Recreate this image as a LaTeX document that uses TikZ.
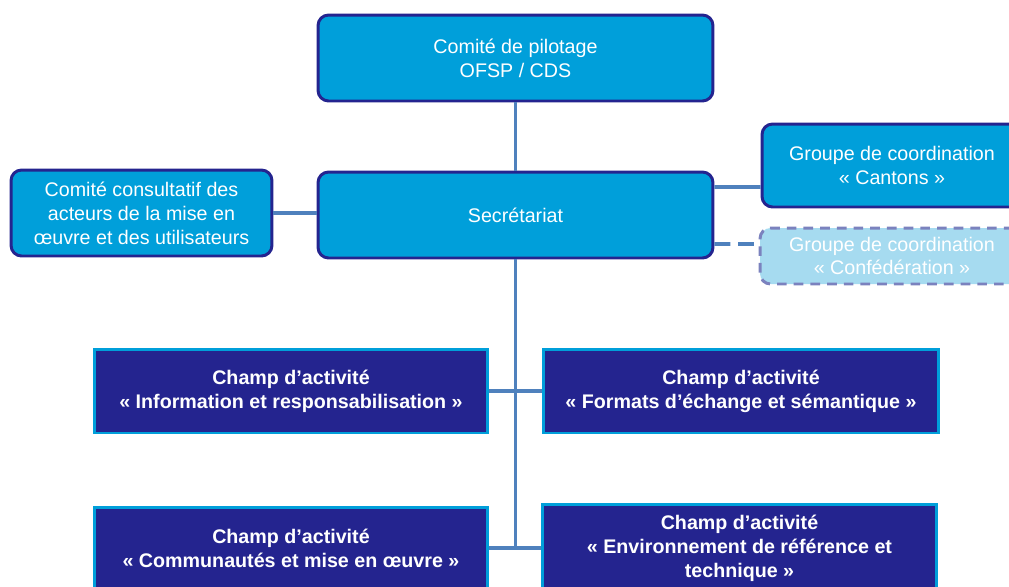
\documentclass[tikz,border=0pt]{standalone}
\usepackage{fontspec}
\setmainfont{Liberation Sans}
\usetikzlibrary{positioning}
\definecolor{ciel}{RGB}{0,159,218}
\definecolor{nuit}{RGB}{36,36,143}
\definecolor{trait}{RGB}{79,129,189}
\definecolor{pale}{RGB}{166,219,240}
\definecolor{grisbleu}{RGB}{123,130,190}
\tikzset{
    mynode/.style = {rectangle, rounded corners=6pt, line width=1.7pt, draw=nuit, fill=ciel, align=center, inner sep=0pt, text=white, font=\fontsize{11.2pt}{13.6pt}\selectfont},
    mynoded/.style = {rectangle, rounded corners=6pt, line width=1.7pt, draw=grisbleu, dash pattern=on 5.5pt off 4pt, fill=pale, align=center, inner sep=0pt, text=white, font=\fontsize{11.2pt}{13.6pt}\selectfont},
    mynodef/.style = {rectangle, line width=1.7pt, draw=ciel, fill=nuit, align=center, inner sep=0pt, text=white, font=\fontsize{11.2pt}{13.6pt}\selectfont\bfseries},
    edgen/.style = {-, line width=2.2pt, trait},
    edged/.style = {-, line width=2.2pt, trait, dash pattern=on 9pt off 4.5pt}
}

\begin{document}
\begin{tikzpicture}[x=0.02cm, y=-0.02cm]
%
\path[use as bounding box] (0,0) rectangle (1009,586);
\clip (0,0) rectangle (1009,586);
%
\node[mynode, minimum width=7.9cm, minimum height=1.72cm] at (515.5,58) (pil) {Comité de pilotage\\OFSP / CDS};
\node[mynode, minimum width=7.9cm, minimum height=1.72cm] at (515.5,215) (sec) {Secrétariat};
\node[mynode, minimum width=5.22cm, minimum height=1.72cm] at (141.5,213) (cons) {Comité consultatif des\\acteurs de la mise en\\œuvre et des utilisateurs};
\node[mynode, minimum width=5.2cm, minimum height=1.66cm] at (892,165.5) (cant) {Groupe de coordination\\« Cantons »};
\node[mynoded, minimum width=5.28cm, minimum height=1.12cm] at (892,256) (conf) {Groupe de coordination\\« Confédération »};
%
\node[mynodef, minimum width=7.88cm, minimum height=1.68cm] at (291,391) (info) {Champ d’activité\\« Information et responsabilisation »};
\node[mynodef, minimum width=7.92cm, minimum height=1.68cm] at (741,391) (form) {Champ d’activité\\« Formats d’échange et sémantique »};
\node[mynodef, minimum width=7.88cm, minimum height=1.64cm] at (291,548) (comm) {Champ d’activité\\« Communautés et mise en œuvre »};
\node[mynodef, minimum width=7.9cm, minimum height=1.76cm] at (739.5,548) (env) {Champ d’activité\\« Environnement de référence et\\technique »};
%
\draw[edgen] (pil) edge node {} (sec);
\draw[edgen] (cons.east) -- (cons.east -| sec.west);
\draw[edgen] ([yshift=0.56cm]sec.east) -- ([yshift=-0.43cm]cant.west);
\draw[edged] ([yshift=-0.58cm]sec.east) -- ([yshift=0.24cm]conf.west);
\draw[edgen] (sec.south) -- (sec.south |- comm.east);
\draw[edgen] (info) edge node {} (form);
\draw[edgen] (comm) edge node {} (env);

\end{tikzpicture}
\end{document}
